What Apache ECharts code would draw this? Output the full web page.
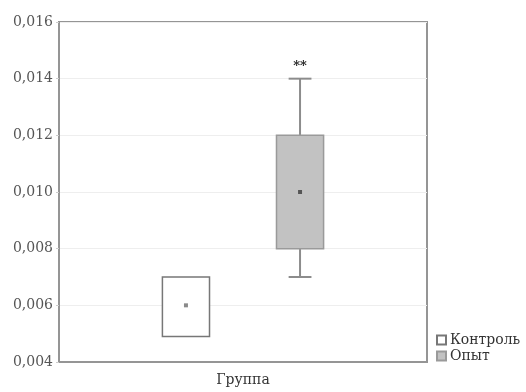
<!DOCTYPE html>
<html><head><meta charset="utf-8">
<script src="https://cdn.jsdelivr.net/npm/echarts@6/dist/echarts.min.js"></script>
<style>html,body{margin:0;padding:0;background:#fff}#c{width:526px;height:392px}</style>
</head><body><div id="c"></div>
<script>
var groups = ['Контроль', 'Опыт'];
var xPos = [0.345, 0.655];
var mins = [0.0049, 0.007];
var q1s = [0.0049, 0.008];
var means = [0.006, 0.010];
var q3s = [0.007, 0.012];
var maxs = [0.007, 0.014];
var marks = ['', '**'];
var yTicks = [0.004, 0.006, 0.008, 0.010, 0.012, 0.014, 0.016];

var fills = ['#ffffff', '#c2c2c2'];
var borders = ['#777777', '#9a9a9a'];
var meanCol = ['#8a8a8a', '#555555'];
var boxW = 0.128, capW = 0.062;
var font = '"DejaVu Serif", "Liberation Serif", serif';

function renderBox(params, api) {
  var i = api.value(6);
  var x = api.value(0);
  var pMin = api.coord([x, api.value(1)]);
  var pQ1 = api.coord([x, api.value(2)]);
  var pMean = api.coord([x, api.value(3)]);
  var pQ3 = api.coord([x, api.value(4)]);
  var pMax = api.coord([x, api.value(5)]);
  var left = api.coord([x - boxW / 2, 0])[0];
  var right = api.coord([x + boxW / 2, 0])[0];
  var cl = api.coord([x - capW / 2, 0])[0];
  var cr = api.coord([x + capW / 2, 0])[0];
  var ls = {stroke: '#8c8c8c', lineWidth: 2};
  var ch = [];
  if (pMax[1] < pQ3[1] - 0.5) {
    ch.push({type: 'line', shape: {x1: pMax[0], y1: pMax[1], x2: pQ3[0], y2: pQ3[1]}, style: ls});
    ch.push({type: 'line', shape: {x1: cl, y1: pMax[1], x2: cr, y2: pMax[1]}, style: ls});
  }
  if (pMin[1] > pQ1[1] + 0.5) {
    ch.push({type: 'line', shape: {x1: pMin[0], y1: pMin[1], x2: pQ1[0], y2: pQ1[1]}, style: ls});
    ch.push({type: 'line', shape: {x1: cl, y1: pMin[1], x2: cr, y2: pMin[1]}, style: ls});
  }
  ch.push({type: 'rect', shape: {x: left, y: pQ3[1], width: right - left, height: pQ1[1] - pQ3[1]},
    style: {fill: fills[i], stroke: borders[i], lineWidth: 1.5}});
  ch.push({type: 'rect', shape: {x: pMean[0] - 2, y: pMean[1] - 2, width: 4, height: 4},
    style: {fill: meanCol[i]}});
  if (marks[i]) {
    ch.push({type: 'text', x: pMax[0], y: pMax[1] - 6,
      style: {text: marks[i], textAlign: 'center', textVerticalAlign: 'bottom', fill: '#222', font: 'bold 13px ' + font}});
  }
  return {type: 'group', children: ch};
}

var series = groups.map(function (g, i) {
  return {
    name: g, type: 'custom', renderItem: renderBox,
    itemStyle: {color: fills[i], borderColor: borders[i], borderWidth: 1},
    encode: {x: 0, y: [1, 2, 3, 4, 5]},
    data: [[xPos[i], mins[i], q1s[i], means[i], q3s[i], maxs[i], i]]
  };
});

var chart = echarts.init(document.getElementById('c'));
chart.setOption({
  animation: false,
  backgroundColor: '#fff',
  grid: {left: 59, right: 99, top: 22, bottom: 29, show: true, borderColor: '#959595', borderWidth: 2, backgroundColor: 'transparent'},
  xAxis: {type: 'value', min: 0, max: 1, name: 'Группа', nameLocation: 'middle', nameGap: 11,
    nameTextStyle: {fontFamily: font, fontSize: 14, color: '#333'},
    axisLine: {show: true, lineStyle: {color: '#959595', width: 2}},
    axisTick: {show: false}, axisLabel: {show: false}, splitLine: {show: false}},
  yAxis: {type: 'value', min: yTicks[0], max: yTicks[yTicks.length - 1], interval: 0.002,
    axisLine: {show: true, lineStyle: {color: '#959595', width: 2}},
    axisTick: {show: true, length: 3, lineStyle: {color: '#cccccc'}},
    axisLabel: {fontFamily: font, fontSize: 14, color: '#555', margin: 6,
      formatter: function (v) { return v.toFixed(3).replace('.', ','); }},
    splitLine: {show: true, lineStyle: {color: '#eeeeee', width: 1}}},
  legend: {orient: 'vertical', left: 436, top: 333, itemGap: 2, itemWidth: 9, itemHeight: 9,
    icon: 'rect', data: groups, padding: 0,
    textStyle: {fontFamily: font, fontSize: 14, color: '#333', padding: [0, 0, 0, -1]}},
  series: series
});
</script></body></html>
